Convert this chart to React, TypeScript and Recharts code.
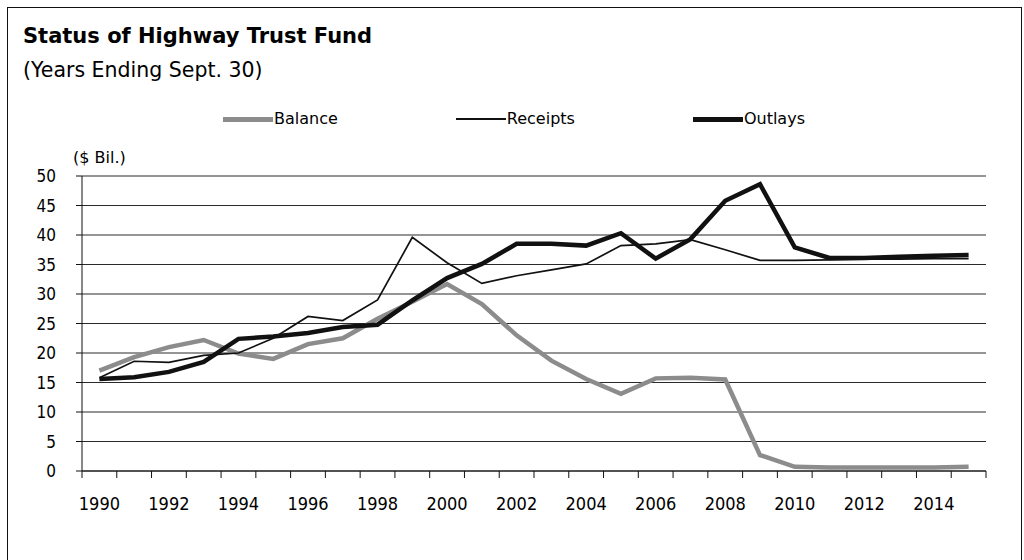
import { LineChart, Line, XAxis, YAxis, CartesianGrid, Legend } from "recharts";

// fiscal years ending Sept. 30, $ billions
const years = [
  1990, 1991, 1992, 1993, 1994, 1995, 1996, 1997, 1998, 1999, 2000, 2001, 2002,
  2003, 2004, 2005, 2006, 2007, 2008, 2009, 2010, 2011, 2012, 2013, 2014, 2015,
];
const balance = [
  17.0, 19.3, 21.0, 22.2, 19.9, 19.0, 21.5, 22.5, 25.8, 28.7, 31.7, 28.3, 23.0,
  18.7, 15.6, 13.1, 15.7, 15.8, 15.5, 2.7, 0.7, 0.6, 0.6, 0.6, 0.6, 0.7,
];
const receipts = [
  15.8, 18.6, 18.4, 19.6, 20.0, 22.5, 26.2, 25.5, 29.0, 39.6, 35.3, 31.8, 33.1,
  34.1, 35.1, 38.2, 38.5, 39.2, 37.5, 35.7, 35.7, 35.8, 35.9, 35.9, 36.0, 36.0,
];
const outlays = [
  15.6, 15.9, 16.8, 18.5, 22.4, 22.8, 23.4, 24.4, 24.8, 28.9, 32.7, 35.1, 38.5,
  38.5, 38.2, 40.3, 36.0, 39.3, 45.8, 48.6, 37.9, 36.1, 36.1, 36.3, 36.5, 36.6,
];

const yTicks = [0, 5, 10, 15, 20, 25, 30, 35, 40, 45, 50];
const yearLabels = [1990, 1992, 1994, 1996, 1998, 2000, 2002, 2004, 2006, 2008, 2010, 2012, 2014];
// tick marks sit between the years, like the original
const yearEdges = [...years.map((y) => y - 0.5), 2015.5];

const data = years.map((year, i) => ({
  year,
  balance: balance[i],
  receipts: receipts[i],
  outlays: outlays[i],
}));

const FONT = '"DejaVu Sans", sans-serif';
const NARROW = '"DejaVu Sans Condensed", "DejaVu Sans", sans-serif';

const legendOrder = ["balance", "receipts", "outlays"];
const marks: Record<string, { color: string; size: number }> = {
  balance: { color: "#8c8c8c", size: 5 },
  receipts: { color: "#111", size: 2 },
  outlays: { color: "#111", size: 5 },
};

function LegendRow({ payload }: any) {
  const items = legendOrder
    .map((k) => (payload || []).find((p: any) => p.dataKey === k))
    .filter(Boolean);
  return (
    <div
      style={{
        display: "flex",
        alignItems: "center",
        gap: 118,
        fontFamily: FONT,
        fontSize: 16,
        lineHeight: 1,
        color: "#000",
      }}
    >
      {items.map((p: any) => {
        const m = marks[p.dataKey];
        return (
          <div key={p.dataKey} style={{ display: "flex", alignItems: "center" }}>
            <span
              style={{
                display: "inline-block",
                width: 50,
                height: m.size,
                background: m.color,
                marginRight: 1,
              }}
            />
            <span>{p.value}</span>
          </div>
        );
      })}
    </div>
  );
}

const NoLabel = () => <g />;

export default function App() {
  return (
    <div
      style={{
        position: "relative",
        width: 1024,
        height: 560,
        overflow: "hidden",
        background: "#fff",
        fontFamily: FONT,
      }}
    >
      <style>{`body { margin: 0; }`}</style>
      <div
        style={{
          position: "absolute",
          left: 7,
          top: 7,
          width: 1013,
          height: 600,
          border: "1px solid #111",
        }}
      />
      <div
        style={{
          position: "absolute",
          left: 23,
          top: 26,
          fontSize: 21,
          fontWeight: "bold",
          lineHeight: 1,
          color: "#000",
        }}
      >
        Status of Highway Trust Fund
      </div>
      <div
        style={{
          position: "absolute",
          left: 23,
          top: 60,
          fontSize: 20.5,
          lineHeight: 1,
          color: "#000",
        }}
      >
        (Years Ending Sept. 30)
      </div>
      <div
        style={{
          position: "absolute",
          left: 73,
          top: 150,
          fontSize: 16,
          lineHeight: 1,
          color: "#000",
        }}
      >
        ($ Bil.)
      </div>

      <LineChart
        width={1024}
        height={560}
        data={data}
        margin={{ top: 176, right: 38, bottom: 49, left: 0 }}
        style={{ position: "absolute", left: 0, top: 0 }}
      >
        <CartesianGrid vertical={false} stroke="#2a2a2a" strokeWidth={1} xAxisId="year" />
        <XAxis
          xAxisId="edges"
          type="number"
          dataKey="year"
          domain={[1989.5, 2015.5]}
          ticks={yearEdges}
          interval={0}
          height={8}
          tickSize={7}
          tick={<NoLabel />}
          tickLine={{ stroke: "#111", strokeWidth: 1 }}
          stroke="#111"
          allowDataOverflow
        />
        <XAxis
          xAxisId="year"
          type="number"
          dataKey="year"
          domain={[1989.5, 2015.5]}
          ticks={yearLabels}
          interval={0}
          height={32}
          axisLine={false}
          tickLine={false}
          tickSize={0}
          tickMargin={18}
          tick={{ fill: "#000", fontSize: 18, fontFamily: NARROW }}
          allowDataOverflow
        />
        <YAxis
          domain={[0, 50]}
          ticks={yTicks}
          interval={0}
          width={82}
          tickSize={6}
          tickMargin={20}
          stroke="#111"
          tick={{ fill: "#000", fontSize: 17, fontFamily: NARROW }}
        />
        <Legend
          verticalAlign="middle"
          align="center"
          layout="horizontal"
          content={<LegendRow />}
          wrapperStyle={{ top: 111, left: 223, width: "auto" }}
        />
        {/* invisible series so the between-year tick axis gets drawn */}
        <Line
          xAxisId="edges"
          dataKey="outlays"
          stroke="none"
          dot={false}
          legendType="none"
          isAnimationActive={false}
        />
        <Line
          xAxisId="year"
          dataKey="balance"
          name="Balance"
          stroke="#8c8c8c"
          strokeWidth={4.5}
          dot={false}
          isAnimationActive={false}
        />
        <Line
          xAxisId="year"
          dataKey="receipts"
          name="Receipts"
          stroke="#111"
          strokeWidth={1.7}
          dot={false}
          isAnimationActive={false}
        />
        <Line
          xAxisId="year"
          dataKey="outlays"
          name="Outlays"
          stroke="#111"
          strokeWidth={4.5}
          dot={false}
          isAnimationActive={false}
        />
      </LineChart>
    </div>
  );
}
